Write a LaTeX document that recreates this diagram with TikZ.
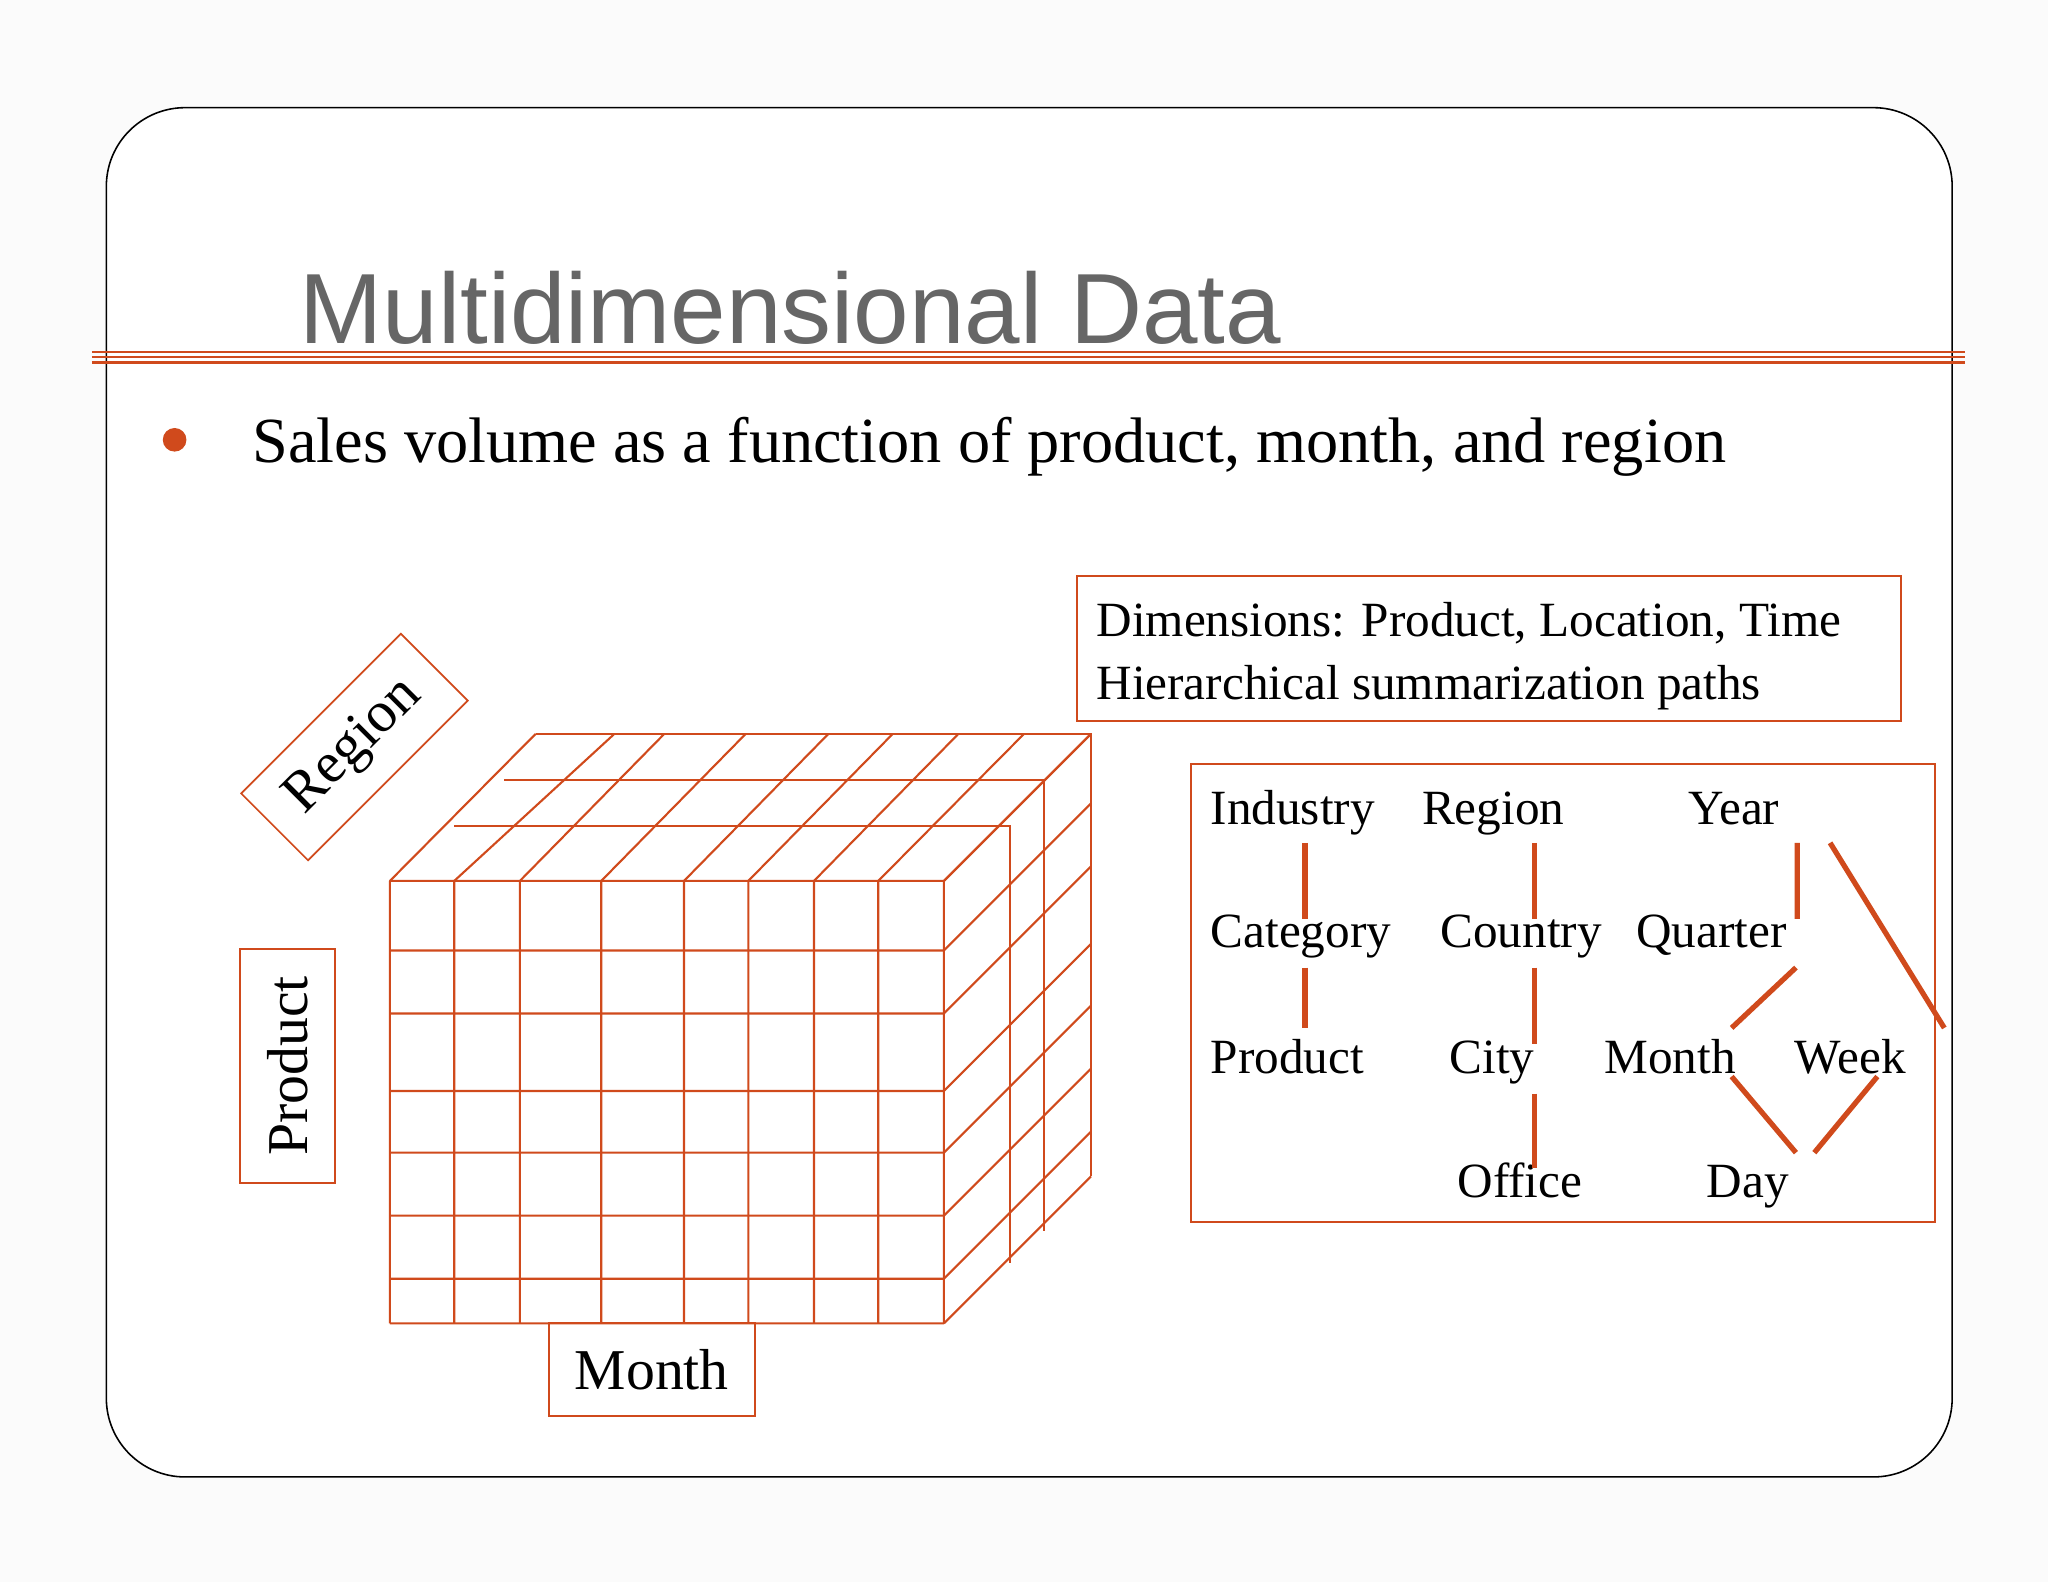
\documentclass[tikz,border=0pt]{standalone}
\usepackage{fontspec}
\setmainfont{Liberation Serif}
\newfontfamily\titlefont{Liberation Sans}
\definecolor{org}{HTML}{D04A1C}
\definecolor{ttl}{HTML}{666666}
\begin{document}
\begin{tikzpicture}[x=1pt,y=-1pt,
  grid/.style={draw=org,line width=1.6pt},
  lbl/.style={draw=org,line width=1.3pt,inner sep=8pt,font=\fontsize{44}{48}\selectfont},
  hw/.style={font=\fontsize{37.5}{40}\selectfont,anchor=base west,inner sep=0pt},
  hl/.style={draw=org,line width=4pt}]
\useasboundingbox (0,0) rectangle (1560,1205);
\fill[white!97!gray] (0,0) rectangle (1560,1205);
\draw[line width=1.2pt,rounded corners=60pt,fill=white] (81,82) rectangle (1487,1125);
\node[anchor=base west,inner sep=0pt,text=ttl,font=\titlefont\fontsize{76}{80}\selectfont] (title) at (228,262) {Multidimensional Data};
\draw[org,line width=2pt] (70,268) -- (1497,268) (70,276) -- (1497,276);
\draw[org,line width=1pt] (70,272) -- (1497,272);
\fill[org] (133,335) circle (9);
\node[anchor=base west,inner sep=0pt,font=\fontsize{49}{52}\selectfont] (sub) at (192,352) {Sales volume as a function of product, month, and region};
% dimensions box
\draw[org,line width=1.5pt] (820,439) rectangle (1448,549);
\node[hw] (d1) at (835,485) {Dimensions: Product, Location, Time};
\node[hw] (d2) at (835,533) {Hierarchical summarization paths};
% hierarchy box
\draw[org,line width=1.5pt] (907,582) rectangle (1474,931);
\node[hw] (ind) at (922,628) {Industry};
\node[hw] (cat) at (922,722) {Category};
\node[hw] (pro) at (922,818) {Product};
\node[hw] (reg) at (1083,628) {Region};
\node[hw] (cou) at (1097,722) {Country};
\node[hw] (cit) at (1104,818) {City};
\node[hw] (off) at (1110,912) {Office};
\node[hw] (yea) at (1286,628) {Year};
\node[hw] (qua) at (1246,722) {Quarter};
\node[hw] (mon) at (1222,818) {Month};
\node[hw] (wee) at (1367,818) {Week};
\node[hw] (day) at (1300,912) {Day};
\draw[hl] (994,642) -- (994,700) (994,737) -- (994,783);
\draw[hl] (1169,642) -- (1169,700) (1169,737) -- (1169,795) (1169,833) -- (1169,890);
\draw[hl] (1369,642) -- (1369,700) (1394,642) -- (1481,783);
\draw[hl] (1368,737) -- (1319,783) (1319,820) -- (1368,878) (1430,820) -- (1382,878);
% cube
\foreach \x/\bx in {297/408,346/468,396/506,458/568,521/631,570/680,620/730,669/780,719/831}
  \draw[grid] (\x,671) -- (\x,1008) (\x,671) -- (\bx,559);
\foreach \y in {671,724,772,831,878,926,974,1008}
  \draw[grid] (297,\y) -- (719,\y) (719,\y) -- (831,\y-112);
\draw[grid] (408,559) -- (831,559) -- (831,896);
\draw[grid] (384,594) -- (795,594) -- (795,938);
\draw[grid] (346,629) -- (769,629) -- (769,962);
% labels
\node[lbl,rotate=45,minimum width=172pt,minimum height=72pt] (rg) at (270,569) {Region};
\node[lbl,rotate=90,minimum width=178pt,minimum height=72pt] (pd) at (219,812) {Product};
\node[lbl,minimum width=157pt,minimum height=71pt] (mo) at (496.5,1043) {Month};
\end{tikzpicture}
\end{document}
